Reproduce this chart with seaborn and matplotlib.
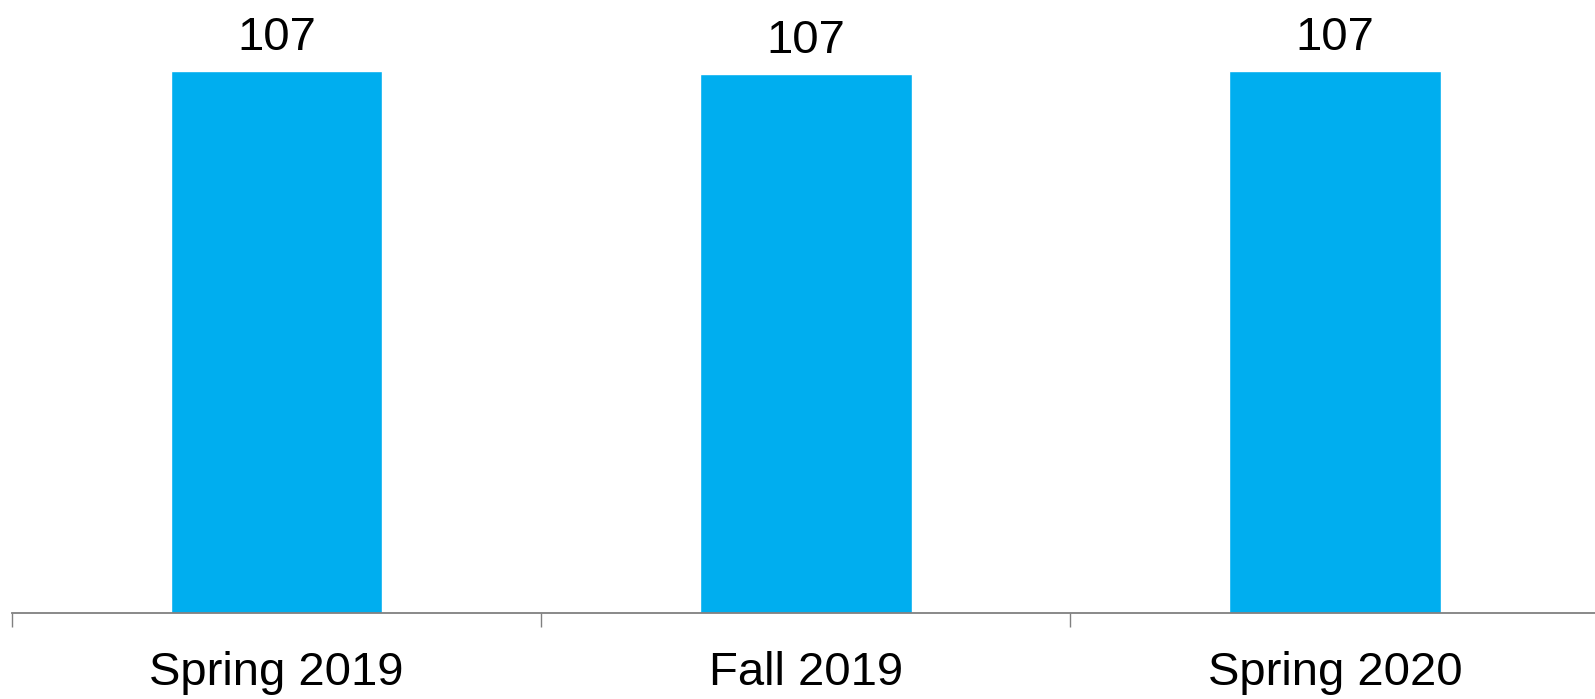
import matplotlib
matplotlib.use("Agg")
import matplotlib.pyplot as plt
import seaborn as sns
import pandas as pd

# Survey waves and their average scores
terms = ["Spring 2019", "Fall 2019", "Spring 2020"]
scores = [107.3, 106.7, 107.2]

sns.set_style("white")
plt.rcParams["font.family"] = ["Liberation Sans", "DejaVu Sans"]

df = pd.DataFrame({"term": terms, "score": scores})

fig = plt.figure(figsize=(15.95, 6.99), dpi=100)
ax = fig.add_axes([12 / 1595, 85.7 / 699, 1587.6 / 1595, 613.3 / 699])

sns.barplot(data=df, x="term", y="score", color="#00AEEF", saturation=1,
            width=0.4, ax=ax, errorbar=None)

ax.set_xlim(-0.5, 2.5)
ax.set_ylim(0, 121.3)

# value labels above each bar
for i, v in enumerate(scores):
    ax.annotate(f"{v:.0f}", xy=(i, v), xytext=(0, 15), textcoords="offset points",
                ha="center", va="baseline", fontsize=34, color="black")

for side in ["left", "right", "top"]:
    ax.spines[side].set_visible(False)
ax.spines["bottom"].set_color("#808080")
ax.spines["bottom"].set_linewidth(1.3)

ax.set_yticks([])
ax.set_xlabel("")
ax.set_ylabel("")

# boundary ticks between categories, labels centred under bars
ax.set_xticks([-0.5, 0.5, 1.5, 2.5], labels=["", "", "", ""])
ax.set_xticks([0, 1, 2], labels=terms, minor=True)
ax.tick_params(axis="x", which="major", bottom=True, length=10, width=1.0,
               color="#808080", direction="out")
ax.tick_params(axis="x", which="minor", bottom=True, length=0, pad=27,
               labelsize=34, labelcolor="black")

fig.savefig("out.png", dpi=100)
